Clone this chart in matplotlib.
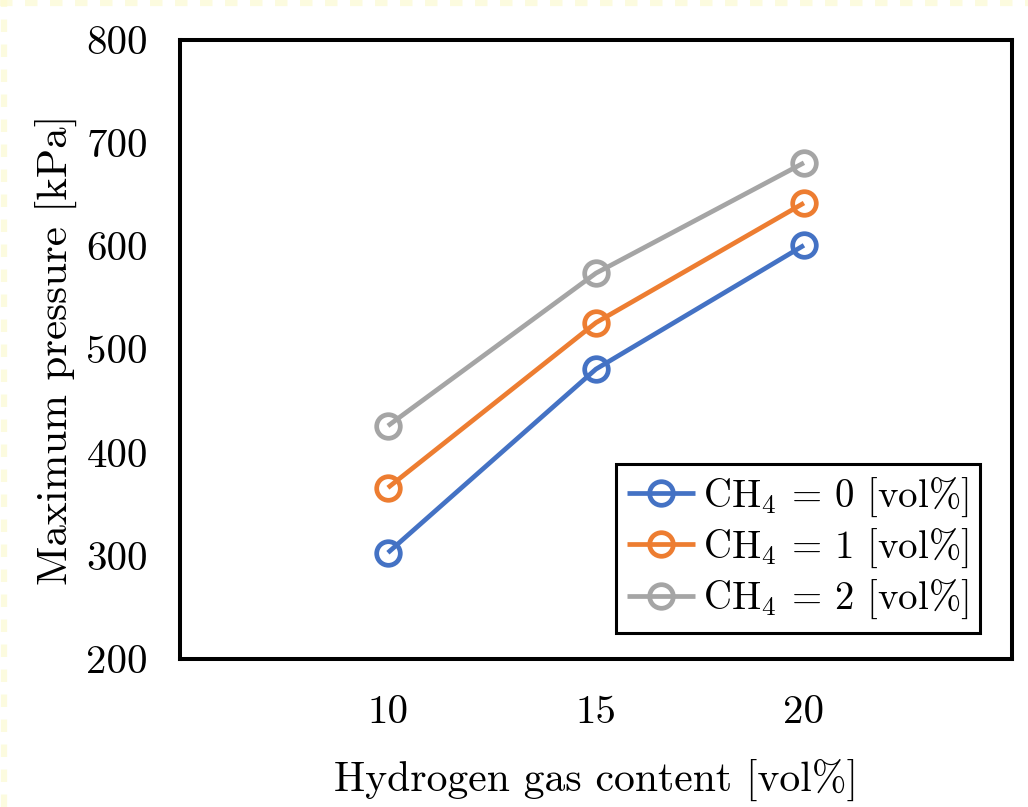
import matplotlib
matplotlib.use("Agg")
import matplotlib.pyplot as plt
from matplotlib.lines import Line2D

plt.rcParams['font.family'] = ['cmr10', 'DejaVu Serif']
plt.rcParams['mathtext.fontset'] = 'cm'
plt.rcParams['axes.formatter.use_mathtext'] = True

# Hydrogen gas content [vol%]
hydrogen = [10, 15, 20]
# Maximum pressure [kPa] for each CH4 concentration
p_ch4_0 = [303, 481, 601]
p_ch4_1 = [366, 526, 642]
p_ch4_2 = [426, 574, 681]

series_labels = ["CH$_4$ = 0 [vol%]", "CH$_4$ = 1 [vol%]", "CH$_4$ = 2 [vol%]"]
x_ticks = [10, 15, 20]
y_ticks = [200, 300, 400, 500, 600, 700, 800]

colors = ['#4472C4', '#ED7D31', '#A5A5A5']

fig = plt.figure(figsize=(10.28, 8.07), dpi=100)
ax = fig.add_axes([0.175, 0.1834, 0.8094, 0.767])

for vals, col, lab in zip([p_ch4_0, p_ch4_1, p_ch4_2], colors, series_labels):
    ax.plot(hydrogen, vals, color=col, lw=3.4, marker='o', markersize=17,
            markerfacecolor='none', markeredgecolor=col, markeredgewidth=3.4,
            label=lab, solid_capstyle='butt')

ax.set_xlim(5, 25)
ax.set_ylim(200, 800)
ax.set_xticks(x_ticks)
ax.set_xticklabels([str(t) for t in x_ticks])
ax.set_yticks(y_ticks)
ax.set_yticklabels([str(t) for t in y_ticks])
ax.tick_params(axis='both', length=0, labelsize=29.5)
ax.tick_params(axis='x', pad=26)
ax.tick_params(axis='y', pad=23)

for s in ax.spines.values():
    s.set_linewidth(2.9)
    s.set_color('black')

ax.set_xlabel("Hydrogen gas content [vol%]", fontsize=30, labelpad=20)
ax.set_ylabel("Maximum pressure [kPa]", fontsize=31, labelpad=7)

leg = ax.legend(loc='lower right', bbox_to_anchor=(0.962, 0.042), fontsize=28,
                frameon=True, fancybox=False, edgecolor='black', framealpha=1,
                handlelength=1.75, handletextpad=0.2, borderpad=0.3,
                labelspacing=0.2, borderaxespad=0)
leg.get_frame().set_linewidth(2.2)

# pale dotted margin along the top and left edges
fig.add_artist(Line2D([0, 1], [0.9965, 0.9965], transform=fig.transFigure,
                      color='#FCFAD2', lw=4.5, linestyle=(0, (2, 2)), alpha=0.7))
fig.add_artist(Line2D([0.0035, 0.0035], [0, 1], transform=fig.transFigure,
                      color='#FCFAD2', lw=4.5, linestyle=(0, (2, 2)), alpha=0.7))

fig.savefig("out.png", dpi=100)
